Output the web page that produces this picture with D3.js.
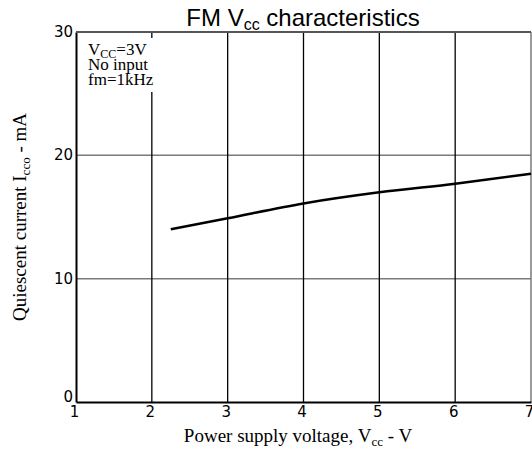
<!DOCTYPE html>
<html><head><meta charset="utf-8">
<script src="https://cdn.jsdelivr.net/npm/d3@7"></script>
<style>body{margin:0;background:#fff}svg{display:block}</style>
</head><body>
<svg id="c" width="532" height="451"></svg>
<script>
const voltage = [2.25, 3, 4, 5, 6, 7];
const current = [14.0, 14.9, 16.1, 17.0, 17.7, 18.5];
const xTicks = [1, 2, 3, 4, 5, 6, 7];
const yTicks = [0, 10, 20, 30];
const notes = [["V", "CC", "=3V"], ["No input", "", ""], ["fm=1kHz", "", ""]];

const svg = d3.select("#c");
const x = d3.scaleLinear().domain([1, 7]).range([76, 531]);
const y = d3.scaleLinear().domain([0, 30]).range([402, 32]);

// horizontal grid (gray)
svg.append("g").selectAll("line").data(yTicks.filter(d => d > 0)).join("line")
  .attr("x1", x(1)).attr("x2", x(7)).attr("y1", d => y(d)).attr("y2", d => y(d))
  .attr("stroke", "#7a7a7a").attr("stroke-width", 1.5);
// vertical grid (black)
svg.append("g").selectAll("line").data(xTicks.filter(d => d > 1 && d < 7)).join("line")
  .attr("x1", d => x(d)).attr("x2", d => x(d)).attr("y1", y(0)).attr("y2", y(30))
  .attr("stroke", "#000").attr("stroke-width", 1.3);
// right border
svg.append("line").attr("x1", x(7)).attr("x2", x(7)).attr("y1", y(0)).attr("y2", y(30))
  .attr("stroke", "#7a7a7a").attr("stroke-width", 1.5);

// axes
const xAxis = d3.axisBottom(x).tickValues(xTicks).tickSize(0).tickFormat(d3.format("d"));
const gx = svg.append("g").attr("transform", `translate(0,${y(0)})`).call(xAxis);
gx.select(".domain").attr("stroke", "#000").attr("stroke-width", 2);
gx.selectAll("text").attr("font-family", "DejaVu Sans").attr("font-size", 15).attr("fill", "#000")
  .attr("dx", -2).attr("y", 4).attr("dy", "0.71em");

const yAxis = d3.axisLeft(y).tickValues(yTicks).tickSize(0).tickFormat(d3.format("d"));
const gy = svg.append("g").attr("transform", `translate(${x(1)},0)`).call(yAxis);
gy.select(".domain").attr("stroke", "#000").attr("stroke-width", 2);
gy.selectAll("text").attr("font-family", "DejaVu Sans").attr("font-size", 15).attr("fill", "#000")
  .attr("x", -3).attr("dy", d => d === 0 ? "-0.05em" : "0.3em");

// top border
svg.append("line").attr("x1", x(1)).attr("x2", x(7)).attr("y1", y(30)).attr("y2", y(30))
  .attr("stroke", "#555").attr("stroke-width", 2);

// curve
const line = d3.line().x(d => x(d[0])).y(d => y(d[1])).curve(d3.curveMonotoneX);
svg.append("path").datum(voltage.map((v, i) => [v, current[i]]))
  .attr("d", line).attr("fill", "none").attr("stroke", "#000").attr("stroke-width", 2.5);

// notes box
svg.append("rect").attr("x", 80).attr("y", 38).attr("width", 86).attr("height", 54).attr("fill", "#fff");
const nt = svg.append("g").attr("font-family", "Liberation Serif").attr("font-size", 17);
notes.forEach((n, i) => {
  const t = nt.append("text").attr("x", 88).attr("y", 55 + i * 15);
  t.append("tspan").text(n[0]);
  if (n[1]) {
    t.append("tspan").attr("font-size", 12).attr("dy", 3).text(n[1]);
    t.append("tspan").attr("dy", -3).text(n[2]);
  }
});

// title
const tt = svg.append("text").attr("x", 303).attr("y", 26).attr("text-anchor", "middle")
  .attr("font-family", "Liberation Sans").attr("font-size", 24);
tt.append("tspan").text("FM V");
tt.append("tspan").attr("font-size", 16).attr("dy", 4).text("cc");
tt.append("tspan").attr("dy", -4).text(" characteristics");

// x title
const xt = svg.append("text").attr("x", 298).attr("y", 442).attr("text-anchor", "middle")
  .attr("font-family", "Liberation Serif").attr("font-size", 19);
xt.append("tspan").text("Power supply voltage, V");
xt.append("tspan").attr("font-size", 13).attr("dy", 4).text("cc");
xt.append("tspan").attr("dy", -4).text(" - V");

// y title
const yt = svg.append("text").attr("transform", "translate(26,217) rotate(-90)").attr("text-anchor", "middle")
  .attr("font-family", "Liberation Serif").attr("font-size", 19);
yt.append("tspan").text("Quiescent current I");
yt.append("tspan").attr("font-size", 13).attr("dy", 4).text("cco");
yt.append("tspan").attr("dy", -4).text(" - mA");
</script>
</body></html>
